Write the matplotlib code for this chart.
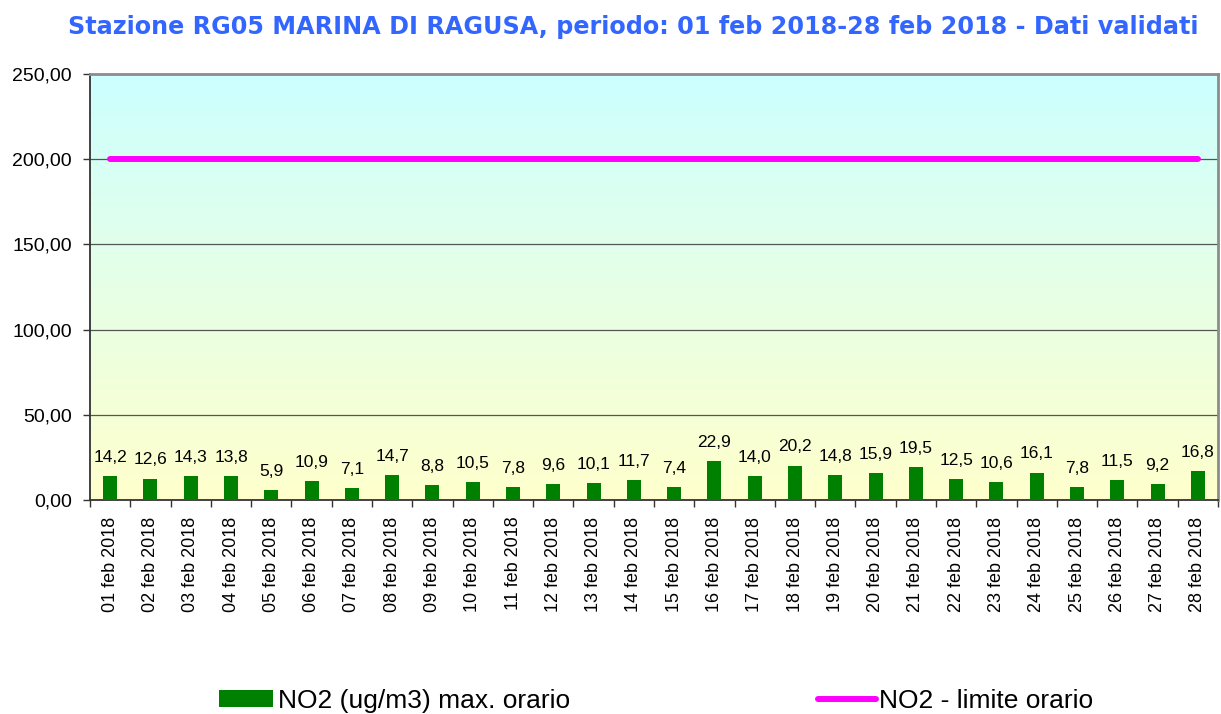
import matplotlib
matplotlib.use("Agg")
from matplotlib import pyplot as plt
from matplotlib.patches import Patch
from matplotlib.lines import Line2D
from matplotlib.colors import LinearSegmentedColormap
import numpy as np

plt.rcParams['font.family'] = ['Liberation Sans', 'DejaVu Sans']

# dati
giorni = ["%02d feb 2018" % g for g in range(1, 29)]
no2_max = [14.2, 12.6, 14.3, 13.8, 5.9, 10.9, 7.1, 14.7, 8.8, 10.5, 7.8, 9.6, 10.1, 11.7,
           7.4, 22.9, 14.0, 20.2, 14.8, 15.9, 19.5, 12.5, 10.6, 16.1, 7.8, 11.5, 9.2, 16.8]
limite = [200.0] * 28
titolo = "Stazione RG05 MARINA DI RAGUSA, periodo: 01 feb 2018-28 feb 2018 - Dati validati"

fig = plt.figure(figsize=(12.21, 7.14), dpi=100)
ax = fig.add_axes([90 / 1221, 1 - 500 / 714, 1128 / 1221, 426 / 714])

x = np.arange(len(giorni))

# sfondo sfumato
cmap = LinearSegmentedColormap.from_list("bg", ["#FFFFCC", "#E6FFE6", "#CCFFFF"])
grad = np.linspace(0, 1, 256).reshape(-1, 1)
ax.imshow(grad, cmap=cmap, aspect='auto', origin='lower',
          extent=[-0.5, len(giorni) - 0.5, 0, 250], zorder=0)

for yv in [50, 100, 150, 200]:
    ax.axhline(yv, color='#555555', lw=0.9, zorder=1)

ax.bar(x, no2_max, width=0.35, color='#008000', zorder=3)
ax.plot(x, limite, color='#FF00FF', lw=4.3, solid_capstyle='round', zorder=4)

for xi, v in zip(x, no2_max):
    ax.annotate(("%.1f" % v).replace('.', ','), (xi, v), xytext=(0, 8),
                textcoords='offset points', ha='center', va='bottom', fontsize=12.5)

ax.set_xlim(-0.5, len(giorni) - 0.5)
ax.set_ylim(0, 250)
ax.set_yticks([0, 50, 100, 150, 200, 250])
ax.set_yticklabels([("%.2f" % t).replace('.', ',') for t in [0, 50, 100, 150, 200, 250]],
                   fontsize=14)
ax.set_xticks(x)
ax.set_xticklabels(giorni, rotation=90, fontsize=13)
ax.set_xticks(np.arange(-0.5, len(giorni), 1), minor=True)
ax.tick_params(axis='x', which='major', length=0, pad=12)
ax.tick_params(axis='x', which='minor', length=5, width=1, color='#333333')
ax.tick_params(axis='y', length=5, width=1, color='#333333', pad=8)

for s in ['top', 'right']:
    ax.spines[s].set_color('#8C8C8C')
    ax.spines[s].set_linewidth(2)
for s in ['left', 'bottom']:
    ax.spines[s].set_color('#333333')
    ax.spines[s].set_linewidth(1.3)

fig.text(0.519, 0.962, titolo, ha='center', va='center', fontsize=17.2, fontweight='bold',
         color='#3366FF', family=['DejaVu Sans'])

leg_y = 1 - 701 / 714
leg1 = fig.legend([Patch(facecolor='#008000', edgecolor='none')], ["NO2 (ug/m3) max. orario"],
                  loc='center left', bbox_to_anchor=(219 / 1221, leg_y), frameon=False,
                  fontsize=19, handlelength=2.05, handleheight=0.6, handletextpad=0.2,
                  borderpad=0, borderaxespad=0)
leg2 = fig.legend([Line2D([0], [0], color='#FF00FF', lw=4.3, solid_capstyle='round')],
                  ["NO2 - limite orario"],
                  loc='center left', bbox_to_anchor=(818 / 1221, leg_y), frameon=False,
                  fontsize=19, handlelength=2.2, handletextpad=0.1, borderpad=0,
                  borderaxespad=0)

fig.savefig("out.png", dpi=100)
